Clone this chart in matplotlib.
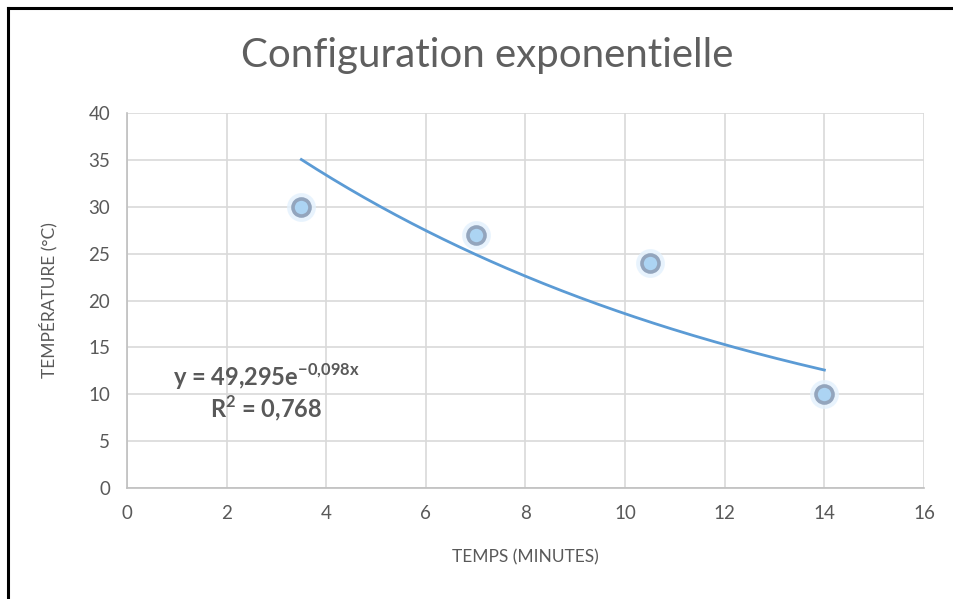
import numpy as np
import matplotlib.pyplot as plt
from matplotlib.lines import Line2D

# donnees
temps = [3.5, 7, 10.5, 14]
temperature = [30, 27, 24, 10]
x_ticks = [0, 2, 4, 6, 8, 10, 12, 14, 16]
y_ticks = [0, 5, 10, 15, 20, 25, 30, 35, 40]
eq_label = 'y = 49,295e$^{\\mathbf{-0{,}098x}}$'
r2_label = 'R$^{\\mathbf{2}}$ = 0,768'

plt.rcParams['font.family'] = ['Lato', 'DejaVu Sans']
plt.rcParams['mathtext.fontset'] = 'custom'
plt.rcParams['mathtext.bf'] = 'Lato:bold'
plt.rcParams['mathtext.rm'] = 'Lato'

grey = '#595959'
grid = '#d9d9d9'

fig = plt.figure(figsize=(9.54, 5.99), dpi=100)
ax = fig.add_axes([127/954, 1-488/599, (924-127)/954, (488-113)/599])

# courbe de tendance exponentielle (ajustement sur ln y)
b, a = np.polyfit(temps, np.log(temperature), 1)
xs = np.linspace(min(temps), max(temps), 200)
ax.plot(xs, np.exp(a) * np.exp(b * xs), color='#5b9bd5', lw=2, zorder=3)

# points avec un leger halo
ax.scatter(temps, temperature, s=430, color='#e3f1fd', alpha=0.8, lw=0, zorder=4)
ax.scatter(temps, temperature, s=150, facecolor='#acd4f3', edgecolor='#93a5bd',
           linewidth=2.6, zorder=5)

ax.set_xlim(0, 16)
ax.set_ylim(0, 40)
ax.set_xticks(x_ticks)
ax.set_yticks(y_ticks)
ax.grid(True, color=grid, lw=1.2)
ax.set_axisbelow(True)
for side in ['top', 'right']:
    ax.spines[side].set_visible(False)
for side in ['left', 'bottom']:
    ax.spines[side].set_color('#bfbfbf')
    ax.spines[side].set_linewidth(1.2)
ax.tick_params(length=0, labelsize=13.5, labelcolor=grey, pad=12)

ax.set_xlabel('TEMPS (MINUTES)', fontsize=12.5, color=grey, labelpad=20)
ax.set_ylabel('TEMPÉRATURE (°C)', fontsize=12.5, color=grey, labelpad=22)
fig.text(487/954, 1-55/599, 'Configuration exponentielle', fontsize=29,
         color='#5f5f5f', ha='center', va='center')

fig.text(266/954, 1-377/599, eq_label, fontsize=17, fontweight='bold',
         color=grey, ha='center', va='center')
fig.text(266/954, 1-408/599, r2_label, fontsize=17, fontweight='bold',
         color=grey, ha='center', va='center')

# cadre noir en haut et a gauche
fig.add_artist(Line2D([8/954, 8/954], [0, 1-8/599], transform=fig.transFigure,
                      color='black', lw=2.2))
fig.add_artist(Line2D([8/954, 1], [1-8/599, 1-8/599], transform=fig.transFigure,
                      color='black', lw=2.2))

fig.savefig('out.png', dpi=100)
